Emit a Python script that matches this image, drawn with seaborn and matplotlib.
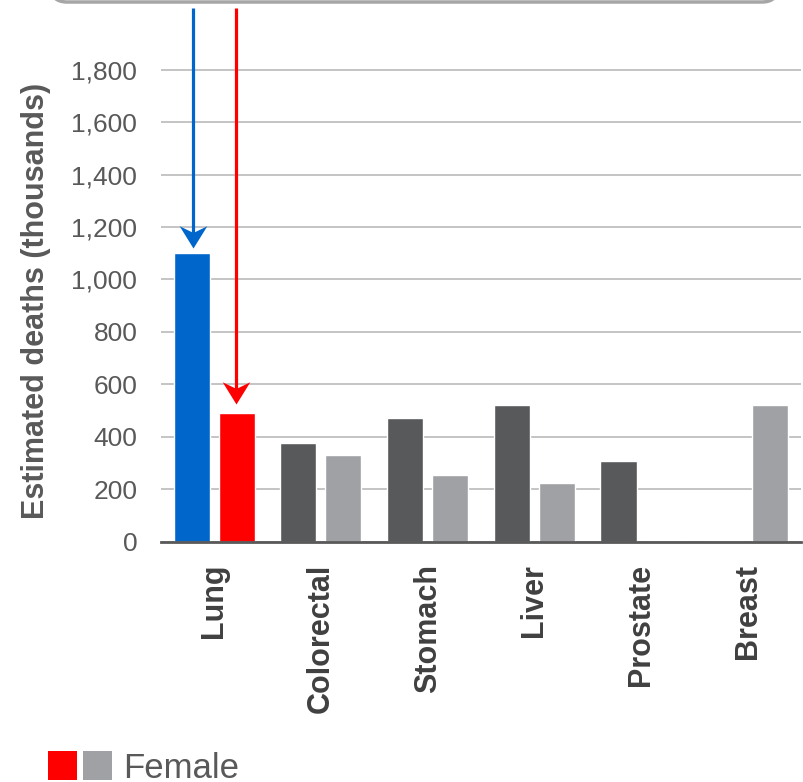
import pandas as pd
import numpy as np
import seaborn as sns
import matplotlib.pyplot as plt
from matplotlib.patches import Rectangle, FancyBboxPatch
from matplotlib.path import Path

# datos (miles de muertes estimadas)
cancer_sites = ["Lung", "Colorectal", "Stomach", "Liver", "Prostate", "Breast"]
male_deaths = [1100, 377, 472, 522, 308, 0]
female_deaths = [491, 330, 254, 224, 0, 522]
y_ticks = [0, 200, 400, 600, 800, 1000, 1200, 1400, 1600, 1800]

dark_gray = "#58595B"
light_gray = "#A0A1A4"
blue = "#0066CC"
red = "#FF0000"
text_gray = "#595959"

sns.set_theme(style="white")
plt.rcParams['font.family'] = ['Liberation Sans', 'DejaVu Sans']

df = pd.DataFrame({
    "site": cancer_sites * 2,
    "sex": ["Male"] * len(cancer_sites) + ["Female"] * len(cancer_sites),
    "deaths": male_deaths + female_deaths,
})

fig = plt.figure(figsize=(8.04, 7.82), dpi=100)
ax = fig.add_axes([0.2002, 0.3073, 0.7961, 0.6706])

sns.barplot(data=df, x="site", y="deaths", hue="sex", order=cancer_sites,
            hue_order=["Male", "Female"], palette=[dark_gray, light_gray],
            width=0.844, gap=0.2, saturation=1, legend=False, ax=ax)

# pulmon en azul / rojo
bars = [p for p in ax.patches if isinstance(p, Rectangle)]
n = len(cancer_sites)
bars[0].set_facecolor(blue)
bars[n].set_facecolor(red)

ax.set_xlim(-0.5, 5.5)
ax.set_ylim(0, 2000)
ax.set_yticks(y_ticks)
ax.set_yticklabels([f"{v:,}" for v in y_ticks])
ax.yaxis.grid(True, color="#BFBFBF", linewidth=1.3)
ax.set_axisbelow(True)
for s in ["top", "right", "left"]:
    ax.spines[s].set_visible(False)
ax.spines["bottom"].set_color(text_gray)
ax.spines["bottom"].set_linewidth(2)

ax.tick_params(axis="y", length=0, pad=17, labelsize=19, labelcolor=text_gray)
ax.tick_params(axis="x", length=0, pad=16, labelsize=22, labelcolor="#404040")
plt.setp(ax.get_xticklabels(), rotation=90, fontweight="bold")

ax.set_xlabel("")
ax.set_ylabel("Estimated deaths (thousands)", fontsize=22, fontweight="bold", color=text_gray)
ax.yaxis.set_label_coords(-0.172, 0.459)

# flechas: linea + punta concava
head = Path([(0, 0), (-0.62, 1), (0, 0.7), (0.62, 1), (0, 0)],
            [Path.MOVETO, Path.LINETO, Path.LINETO, Path.LINETO, Path.CLOSEPOLY])
for xpos, val, col, gap in [(-0.2, male_deaths[0], blue, 20), (0.2, female_deaths[0], red, 35)]:
    tip = val + gap
    ax.plot([xpos, xpos], [2037, tip + 40], color=col, lw=2.3, clip_on=False,
            solid_capstyle="butt", zorder=5)
    ax.plot([xpos], [tip], marker=head, markersize=32, color=col,
            markeredgewidth=0, clip_on=False, zorder=6)

# caja cortada arriba
box = FancyBboxPatch((51 / 804, 1 - 2 / 782), (778 - 51) / 804, 0.1,
                     boxstyle="round,pad=0,rounding_size=0.02",
                     transform=fig.transFigure, facecolor="white",
                     edgecolor="#A6A6A6", linewidth=2.5, clip_on=False)
fig.patches.append(box)

# leyenda
fig.patches.append(Rectangle((48 / 804, 1 - 780 / 782), 29 / 804, 29 / 782,
                             transform=fig.transFigure, facecolor=red, edgecolor="none"))
fig.patches.append(Rectangle((83 / 804, 1 - 780 / 782), 29 / 804, 29 / 782,
                             transform=fig.transFigure, facecolor=light_gray, edgecolor="none"))
fig.text(123 / 804, 1 - 778 / 782, "Female", fontsize=25, color=text_gray, va="baseline")

fig.savefig("out.png", dpi=100)
